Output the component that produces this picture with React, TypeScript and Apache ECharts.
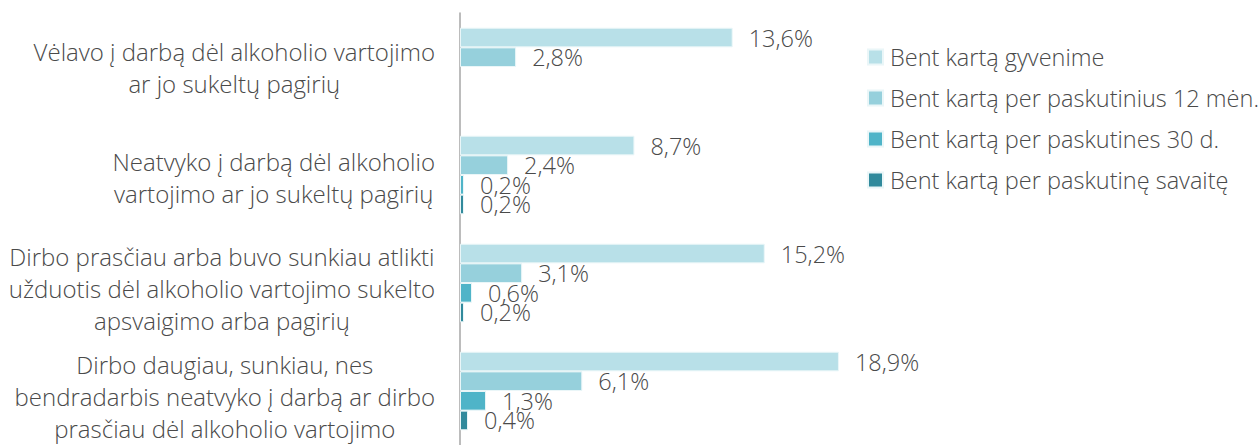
import React, { useEffect, useRef } from "react";
import * as echarts from "echarts";

const categories = [
  "Vėlavo į darbą dėl alkoholio vartojimo\nar jo sukeltų pagirių",
  "Neatvyko į darbą dėl alkoholio\nvartojimo ar jo sukeltų pagirių",
  "Dirbo prasčiau arba buvo sunkiau atlikti\nužduotis dėl alkoholio vartojimo sukelto\napsvaigimo arba pagirių",
  "Dirbo daugiau, sunkiau, nes\nbendradarbis neatvyko į darbą ar dirbo\nprasčiau dėl alkoholio vartojimo",
];

const seriesNames = [
  "Bent kartą gyvenime",
  "Bent kartą per paskutinius 12 mėn.",
  "Bent kartą per paskutines 30 d.",
  "Bent kartą per paskutinę savaitę",
];

const lifetime = [13.6, 8.7, 15.2, 18.9];
const last12m = [2.8, 2.4, 3.1, 6.1];
const last30d = [null, 0.2, 0.6, 1.3];
const lastWeek = [null, 0.2, 0.2, 0.4];

const colors = ["#b8e0e8", "#96d0dc", "#4fb4c8", "#318a9c"];
const FONT = "'Open Sans', sans-serif";
const TEXT = "#4a4a4a";
const FS = 23.5;

export default function App() {
  const ref = useRef<HTMLDivElement>(null);
  useEffect(() => {
    if (!ref.current) return;
    const chart = echarts.init(ref.current, null, { renderer: "svg" });
    const data = [lifetime, last12m, last30d, lastWeek];
    const catPad = [
      [0, 0, 0, 0],
      [4, 0, 0, 0],
      [10, 0, 0, 0],
      [10, 0, 0, 0],
    ];
    chart.setOption({
      animation: false,
      textStyle: { fontFamily: FONT },
      grid: { left: 460, top: 13, width: 401, height: 440 },
      legend: {
        orient: "vertical",
        left: 862,
        top: 40,
        itemWidth: 15,
        itemHeight: 15,
        itemGap: 17,
        icon: "rect",
        textStyle: { fontFamily: FONT, fontSize: FS, fontWeight: 300, color: TEXT, padding: [0, 0, 0, 2] },
        data: seriesNames,
      },
      xAxis: {
        type: "value",
        min: 0,
        max: 20,
        show: false,
      },
      yAxis: {
        type: "category",
        inverse: true,
        data: categories.map((c, i) => ({ value: c, textStyle: { padding: catPad[i] } })),
        axisLine: { show: true, lineStyle: { color: "#a6a6a6", width: 1.5 } },
        axisTick: { show: false },
        axisLabel: {
          align: "right",
          margin: 25,
          fontFamily: FONT,
          fontSize: 24,
          fontWeight: 300,
          lineHeight: 32,
          color: TEXT,
          formatter: (value: string) =>
            value
              .split("\n")
              .map((l) => `{c|${l}}`)
              .join("\n"),
          rich: {
            c: {
              align: "center",
              fontFamily: FONT,
              fontSize: 24,
              fontWeight: 300,
              lineHeight: 32,
              color: TEXT,
            },
          },
        },
      },
      series: seriesNames.map((name, i) => ({
        name,
        type: "bar",
        data: data[i],
        barGap: "0%",
        barCategoryGap: "27.27%",
        itemStyle: { color: colors[i], borderColor: "#eaf6f8", borderWidth: 1 },
        label: {
          show: true,
          position: "right",
          distance: 16,
          fontFamily: FONT,
          fontSize: FS,
          fontWeight: 300,
          color: TEXT,
          formatter: (p: any) =>
            p.value == null ? "" : Number(p.value).toFixed(1).replace(".", ",") + "%",
        },
      })),
    });
    return () => chart.dispose();
  }, []);
  return (
    <div
      ref={ref}
      style={{ position: "absolute", left: 0, top: 0, width: 1258, height: 445 }}
    />
  );
}
